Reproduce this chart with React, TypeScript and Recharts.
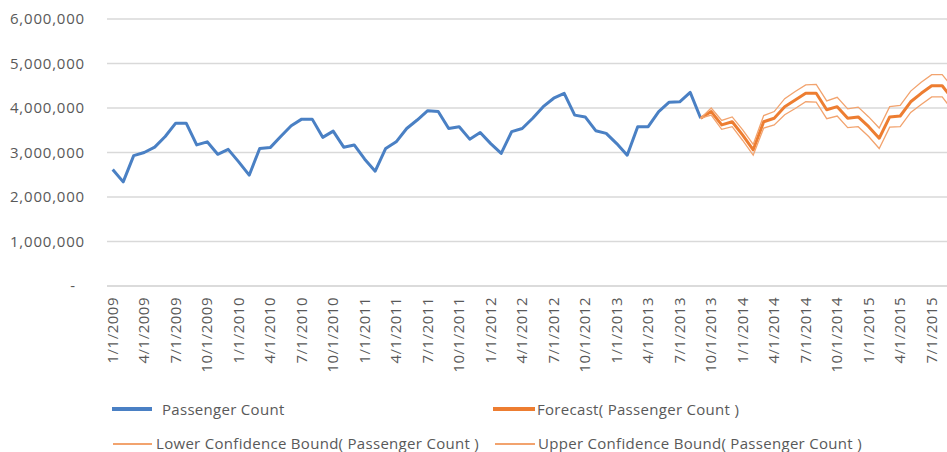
import React from 'react';
import { LineChart, Line, XAxis, YAxis, CartesianGrid, Legend } from 'recharts';

// Monthly categories start at 1/1/2009
const START_YEAR = 2009;
const MONTH_COUNT = 81; // 1/2009 .. 9/2015
const FORECAST_START = 56; // 9/1/2013 (last actual point, forecast begins here)

const passengerCount = [
  2620000, 2340000, 2930000, 3000000, 3120000, 3360000, 3660000, 3660000, 3170000, 3240000, 2960000, 3070000,
  2790000, 2490000, 3090000, 3110000, 3360000, 3600000, 3750000, 3750000, 3340000, 3480000, 3120000, 3170000,
  2850000, 2580000, 3090000, 3240000, 3540000, 3730000, 3940000, 3920000, 3540000, 3580000, 3300000, 3450000,
  3200000, 2980000, 3470000, 3540000, 3770000, 4030000, 4220000, 4330000, 3840000, 3800000, 3490000, 3430000,
  3200000, 2940000, 3580000, 3580000, 3920000, 4130000, 4140000, 4350000, 3770000,
];

const forecast = [
  3770000, 3920000, 3620000, 3690000, 3390000, 3060000, 3690000, 3770000, 4030000, 4180000, 4330000, 4330000,
  3960000, 4030000, 3770000, 3800000, 3580000, 3320000, 3800000, 3820000, 4140000, 4330000, 4500000, 4500000,
  4200000,
];

const lowerBound = [
  3770000, 3840000, 3520000, 3580000, 3270000, 2940000, 3550000, 3620000, 3850000, 3990000, 4140000, 4130000,
  3760000, 3820000, 3560000, 3580000, 3360000, 3090000, 3570000, 3580000, 3900000, 4080000, 4250000, 4250000,
  3940000,
];

const upperBound = [
  3770000, 4000000, 3720000, 3800000, 3510000, 3180000, 3830000, 3920000, 4210000, 4370000, 4520000, 4530000,
  4160000, 4240000, 3980000, 4020000, 3800000, 3550000, 4030000, 4060000, 4380000, 4580000, 4750000, 4750000,
  4460000,
];

const yTicks = [0, 1000000, 2000000, 3000000, 4000000, 5000000, 6000000];

const categories: string[] = [];
for (let i = 0; i < MONTH_COUNT; i++) {
  categories.push(`${(i % 12) + 1}/1/${START_YEAR + Math.floor(i / 12)}`);
}

const data = categories.map((date, i) => ({
  date,
  passenger: i < passengerCount.length ? passengerCount[i] : null,
  forecast: i >= FORECAST_START ? forecast[i - FORECAST_START] ?? null : null,
  lower: i >= FORECAST_START ? lowerBound[i - FORECAST_START] ?? null : null,
  upper: i >= FORECAST_START ? upperBound[i - FORECAST_START] ?? null : null,
}));

const FONT = '"Open Sans", "DejaVu Sans", sans-serif';
const TEXT = '#595959';
const BLUE = '#4a80c4';
const ORANGE = '#ed7d31';
const BOUND = '#f2a36e';

const fmt = (v: number) => String(v).replace(/\B(?=(\d{3})+(?!\d))/g, ',');

const YTick = (props: any) => {
  const { x, y, payload } = props;
  const v = payload.value as number;
  return (
    <text
      x={v === 0 ? x - 9 : x}
      y={y}
      dy="0.35em"
      textAnchor="end"
      fill={TEXT}
      fontSize={15}
      letterSpacing={0.8}
      fontFamily={FONT}
    >
      {v === 0 ? '-' : fmt(v)}
    </text>
  );
};

const XTick = (props: any) => {
  const { x, y, payload } = props;
  return (
    <text
      x={x}
      y={y}
      dy="0.35em"
      transform={`rotate(-90, ${x}, ${y})`}
      textAnchor="end"
      fill={TEXT}
      fontSize={15}
      letterSpacing={0.5}
      fontFamily={FONT}
    >
      {payload.value}
    </text>
  );
};

const LegendContent = () => {
  const txt: React.CSSProperties = {
    position: 'absolute',
    fontFamily: FONT,
    fontSize: 15,
    letterSpacing: 0.3,
    color: TEXT,
    whiteSpace: 'nowrap',
    lineHeight: '16px',
  };
  const line = (left: number, top: number, width: number, h: number, color: string): React.CSSProperties => ({
    position: 'absolute',
    left,
    top: top - h / 2,
    width,
    height: h,
    background: color,
  });
  return (
    <div style={{ position: 'relative', width: 947, height: 57 }}>
      <div style={line(112, 14, 40, 4, BLUE)} />
      <div style={{ ...txt, left: 162, top: 6 }}>Passenger Count</div>
      <div style={line(493, 14, 42, 4, ORANGE)} />
      <div style={{ ...txt, left: 537, top: 6 }}>Forecast( Passenger Count )</div>
      <div style={line(113, 49, 39, 1.5, BOUND)} />
      <div style={{ ...txt, left: 156, top: 40 }}>Lower Confidence Bound( Passenger Count )</div>
      <div style={line(495, 49, 40, 1.5, BOUND)} />
      <div style={{ ...txt, left: 538, top: 40 }}>Upper Confidence Bound( Passenger Count )</div>
    </div>
  );
};

export default function App() {
  return (
    <div style={{ position: 'absolute', left: 0, top: 0, width: 947, height: 452, overflow: 'hidden', background: '#fff' }}>
      <LineChart width={958} height={452} data={data} margin={{ top: 19, right: 0, bottom: 62, left: 0 }}>
        <CartesianGrid vertical={false} stroke="#d9d9d9" strokeWidth={1.5} />
        <XAxis
          dataKey="date"
          interval={2}
          tick={<XTick />}
          tickLine={false}
          tickSize={0}
          tickMargin={11}
          height={104}
          axisLine={{ stroke: '#d9d9d9', strokeWidth: 1.5 }}
          padding={{ left: 5.7, right: 5.3 }}
        />
        <YAxis
          domain={[0, 6000000]}
          ticks={yTicks}
          width={107}
          tick={<YTick />}
          tickLine={false}
          tickSize={0}
          tickMargin={22}
          axisLine={false}
        />
        <Legend
          verticalAlign="middle"
          align="center"
          layout="horizontal"
          content={<LegendContent />}
          wrapperStyle={{ position: 'absolute', left: 0, top: 395, width: 947, height: 57 }}
        />
        <Line type="linear" dataKey="passenger" stroke={BLUE} strokeWidth={3} dot={false} isAnimationActive={false} strokeLinejoin="round" />
        <Line type="linear" dataKey="forecast" stroke={ORANGE} strokeWidth={3} dot={false} isAnimationActive={false} strokeLinejoin="round" />
        <Line type="linear" dataKey="lower" stroke={BOUND} strokeWidth={1.3} dot={false} isAnimationActive={false} />
        <Line type="linear" dataKey="upper" stroke={BOUND} strokeWidth={1.3} dot={false} isAnimationActive={false} />
      </LineChart>
    </div>
  );
}
